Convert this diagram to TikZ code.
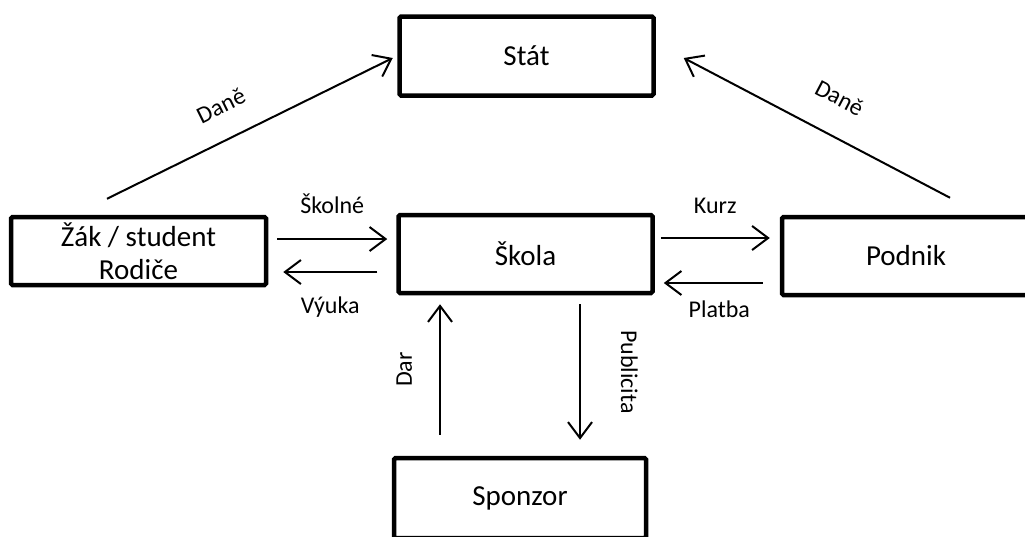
\documentclass[tikz,border=0pt]{standalone}
\usepackage{fontspec}
\setmainfont{Carlito}
\usetikzlibrary{arrows.meta}
\tikzstyle{block} = [rectangle, draw=black, line width=4.5pt, rounded corners=1.5pt, minimum width=254pt, minimum height=78pt, inner sep=0pt, align=center, font=\fontsize{29}{33}\selectfont]
\tikzstyle{flow} = [line width=2pt, -{Straight Barb[length=16pt,width=24pt]}]
\tikzstyle{lbl} = [font=\fontsize{24}{27}\selectfont, inner sep=2pt]

\begin{document}
\begin{tikzpicture}[x=1pt, y=-1pt]
\useasboundingbox (0,0) rectangle (1025,536);

\node (stat) [block, minimum height=79pt] at (526.5,56) {Stát};
\node (zak) [block, minimum width=255pt, minimum height=68pt] at (138.5,251) {Žák / student\\Rodiče};
\node (skola) [block] at (525.5,254) {Škola};
\node (podnik) [block, minimum width=248pt] at (906,256) {Podnik};
\node (sponzor) [block, minimum width=252pt, minimum height=80pt] at (520,498) {Sponzor};

\draw [flow] ([xshift=9pt,yshift=12pt]zak.east) -- node[lbl, above=22pt] {Školné} ([xshift=-9pt,yshift=15pt]skola.west);
\draw [flow] ([xshift=-19pt,yshift=-18pt]skola.west) -- node[lbl, below=22pt] {Výuka} ([xshift=15pt,yshift=-21pt]zak.east);
\draw [flow] ([xshift=6pt,yshift=16pt]skola.east) -- node[lbl, above=21pt] {Kurz} ([xshift=-10pt,yshift=18pt]podnik.west);
\draw [flow] ([xshift=-17pt,yshift=-27pt]podnik.west) -- node[lbl, below=15pt, xshift=6pt] {Platba} ([xshift=9pt,yshift=-29pt]skola.east);
\draw [flow] ([xshift=-80pt,yshift=21pt]sponzor.north) -- node[lbl, sloped, above=25pt] {Dar} ([xshift=-85.5pt,yshift=-9pt]skola.south);
\draw [flow] ([xshift=54.5pt,yshift=-9pt]skola.south) -- node[lbl, sloped, above=38pt] {Publicita} ([xshift=60pt,yshift=16pt]sponzor.north);
\draw [flow] ([xshift=-31.5pt,yshift=16pt]zak.north) -- node[lbl, pos=0.45, sloped, above=22pt] {Daně} ([xshift=-4.5pt,yshift=-2pt]stat.west);
\draw [flow] ([xshift=44pt,yshift=17pt]podnik.north) -- node[lbl, pos=0.48, sloped, above=26pt] {Daně} ([xshift=28pt,yshift=-2pt]stat.east);

\end{tikzpicture}
\end{document}
